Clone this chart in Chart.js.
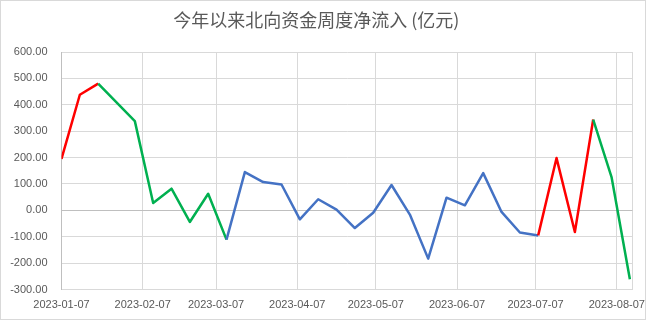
<!DOCTYPE html>
<html>
<head>
<meta charset="utf-8">
<script src="https://cdn.jsdelivr.net/npm/chart.js@4/dist/chart.umd.min.js"></script>
<style>
    html, body { margin: 0; padding: 0; background: #fff; }
    #wrap { position: relative; width: 647px; height: 322px; }
</style>
</head>
<body>
<div id="wrap"><canvas id="flow-chart"></canvas></div>
<script>
// weekly net northbound inflow, 亿元
const weekDates = [
    '2023-01-07', '2023-01-14', '2023-01-21', '2023-02-04', '2023-02-11',
    '2023-02-18', '2023-02-25', '2023-03-04', '2023-03-11', '2023-03-18',
    '2023-03-25', '2023-04-01', '2023-04-08', '2023-04-15', '2023-04-22',
    '2023-04-29', '2023-05-06', '2023-05-13', '2023-05-20', '2023-05-27',
    '2023-06-03', '2023-06-10', '2023-06-17', '2023-06-24', '2023-07-01',
    '2023-07-08', '2023-07-15', '2023-07-22', '2023-07-29', '2023-08-05',
    '2023-08-12',
];
const netInflow = [
    195, 438, 480, 338, 28,
    82, -44, 63, -111, 145,
    107, 98, -34, 42, 3,
    -67, -9, 96, -16, -183,
    48, 19, 141, -6, -84,
    -95, 198, -82, 344, 126,
    -261,
];
const xTickLabels = [
    '2023-01-07', '2023-02-07', '2023-03-07', '2023-04-07',
    '2023-05-07', '2023-06-07', '2023-07-07', '2023-08-07',
];
const axisEndDate = '2023-08-13';
const yTicks = [-300, -200, -100, 0, 100, 200, 300, 400, 500, 600];

const dayMs = 86400000;
const startMs = Date.parse(weekDates[0]);
const toDay = (s) => Math.round((Date.parse(s) - startMs) / dayMs);

const axisFont = { family: "'Liberation Sans', Arial, sans-serif", size: 11 };
const textColor = '#595959';
const gridColor = '#d9d9d9';

// red = accelerating in, green = turning, blue = choppy
function segColor(i) {
    if (i <= 1) return '#ff0000';
    if (i <= 7) return '#00b050';
    if (i <= 24) return '#4472c4';
    if (i <= 27) return '#ff0000';
    return '#00b050';
}

const frame = {
    id: 'frame',
    beforeDraw(chart) {
        const ctx = chart.ctx;
        ctx.save();
        ctx.fillStyle = '#fff';
        ctx.fillRect(0, 0, chart.width, chart.height);
        ctx.strokeStyle = '#d9d9d9';
        ctx.lineWidth = 1;
        ctx.strokeRect(0.5, 0.5, chart.width - 2, chart.height - 3);
        ctx.restore();
    },
};

const tickDays = xTickLabels.map(toDay);
const endDay = toDay(axisEndDate);

new Chart(document.getElementById('flow-chart'), {
    type: 'line',
    data: {
        datasets: [
            {
                data: weekDates.map((d, i) => ({ x: toDay(d), y: netInflow[i] })),
                borderWidth: 2.5,
                borderColor: '#4472c4',
                segment: { borderColor: (c) => segColor(c.p0DataIndex) },
                pointRadius: 0,
                tension: 0,
                borderJoinStyle: 'round',
            },
        ],
    },
    options: {
        responsive: true,
        maintainAspectRatio: false,
        animation: false,
        layout: { padding: { left: 0, right: 14.5, top: 0, bottom: 0 } },
        plugins: {
            legend: { display: false },
            tooltip: { enabled: false },
            title: {
                display: true,
                text: '今年以来北向资金周度净流入 (亿元)',
                color: textColor,
                font: { family: "'Noto Sans CJK SC', sans-serif", size: 18, weight: 'normal' },
                padding: { top: 9, bottom: 21.4 },
            },
        },
        scales: {
            x: {
                type: 'linear',
                min: 0,
                max: endDay,
                afterBuildTicks: (scale) => {
                    scale.ticks = tickDays.concat([endDay]).map((v) => ({ value: v }));
                },
                afterFit: (scale) => { scale.height = 32.5; },
                grid: { color: gridColor, drawTicks: false },
                border: { color: gridColor },
                ticks: {
                    font: axisFont,
                    color: textColor,
                    padding: 9,
                    maxRotation: 0,
                    autoSkip: false,
                    callback: (v) => {
                        const i = tickDays.indexOf(v);
                        return i >= 0 ? xTickLabels[i] : '';
                    },
                },
            },
            y: {
                min: yTicks[0],
                max: yTicks[yTicks.length - 1],
                afterBuildTicks: (scale) => {
                    scale.ticks = yTicks.map((v) => ({ value: v }));
                },
                afterFit: (scale) => { scale.width = 61.5; },
                grid: {
                    color: (c) => (c.tick && c.tick.value === 0 ? '#bfbfbf' : gridColor),
                    drawTicks: false,
                },
                border: { color: '#bfbfbf' },
                ticks: {
                    font: axisFont,
                    color: textColor,
                    padding: 14,
                    callback: (v) => v.toFixed(2),
                },
            },
        },
    },
    plugins: [frame],
});
</script>
</body>
</html>
